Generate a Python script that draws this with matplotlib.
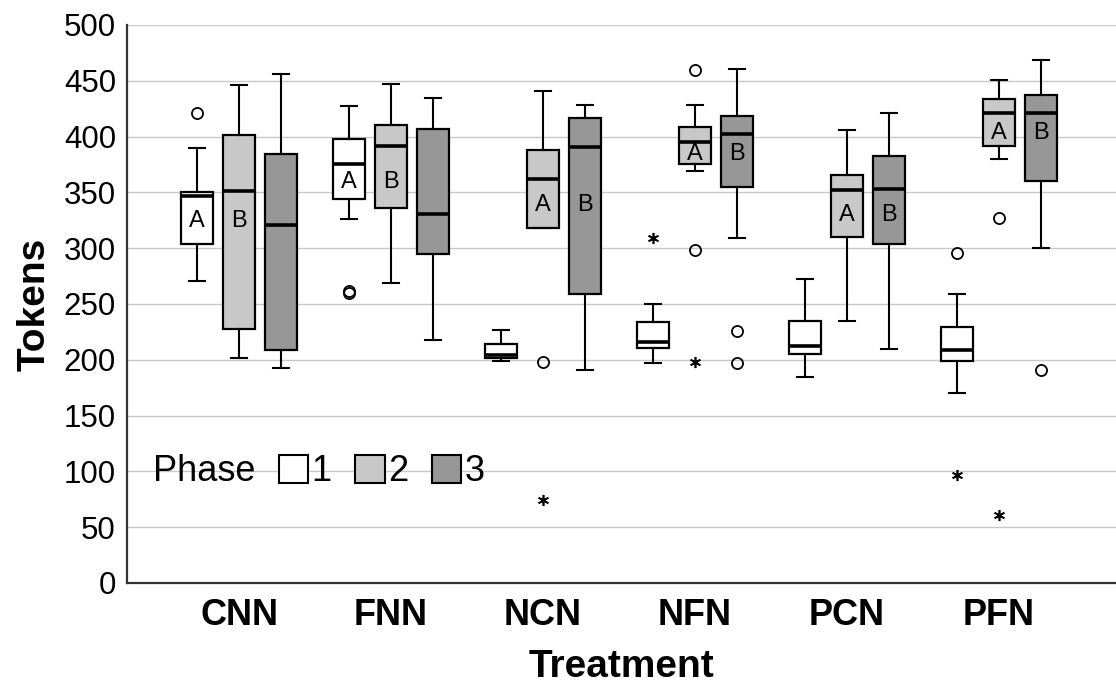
import numpy as np
import matplotlib
matplotlib.use("Agg")
import matplotlib.pyplot as plt
from matplotlib.patches import Patch

# フォント設定（Arial 互換）
plt.rcParams["font.family"] = ["Liberation Sans", "DejaVu Sans"]

# --- データ ---
treatments = ["CNN", "FNN", "NCN", "NFN", "PCN", "PFN"]
phases = ["1", "2", "3"]
phase_colors = ["#ffffff", "#c8c8c8", "#979797"]

# 各フェーズ x 各処理区 の箱ひげ統計量
whisker_low = [
    [271, 326, 199, 197, 185, 170],
    [202, 269, 318, 369, 235, 380],
    [193, 218, 191, 309, 210, 300],
]
quart1 = [
    [304, 344, 202, 211, 205, 199],
    [228, 336, 318, 375, 310, 392],
    [209, 295, 259, 355, 304, 360],
]
median = [
    [347, 375, 204, 216, 212, 209],
    [351, 392, 362, 395, 352, 421],
    [321, 331, 391, 402, 353, 421],
]
quart3 = [
    [350, 398, 214, 234, 235, 229],
    [401, 410, 388, 409, 366, 434],
    [384, 407, 417, 418, 383, 437],
]
whisker_high = [
    [390, 427, 227, 250, 272, 259],
    [446, 447, 441, 428, 406, 451],
    [456, 435, 428, 461, 421, 469],
]
# 外れ値（○）と極値（*）
circles = [
    [[421], [260, 262], [], [], [], [296]],
    [[], [], [198], [460, 298], [], [327]],
    [[], [], [], [226, 197], [], [191]],
]
stars = [
    [[], [], [], [309], [], [97]],
    [[], [], [74], [198], [], [61]],
    [[], [], [], [], [], []],
]
# 多重比較の文字
letters = [
    ["A", "A", "", "", "", ""],
    ["B", "B", "A", "A", "A", "A"],
    ["", "", "B", "B", "B", "B"],
]
letter_y = [324, 359, 339, 384, 330, 403]

# --- 描画 ---
fig, ax = plt.subplots(figsize=(11.16, 6.98), dpi=100)
fig.subplots_adjust(left=0.1138, right=1.0, bottom=0.1648, top=0.9642)

x = np.arange(len(treatments))
offset = 0.276
box_w = 0.21

for p in range(len(phases)):
    stats = []
    for i in range(len(treatments)):
        stats.append(
            dict(
                med=median[p][i],
                q1=quart1[p][i],
                q3=quart3[p][i],
                whislo=whisker_low[p][i],
                whishi=whisker_high[p][i],
                fliers=circles[p][i],
            )
        )
    pos = x + (p - 1) * offset
    ax.bxp(
        stats,
        positions=pos,
        widths=box_w,
        capwidths=0.103,
        patch_artist=True,
        manage_ticks=False,
        boxprops=dict(facecolor=phase_colors[p], edgecolor="black", linewidth=1.6),
        medianprops=dict(color="black", linewidth=2.6, solid_capstyle="butt"),
        whiskerprops=dict(color="black", linewidth=1.5),
        capprops=dict(color="black", linewidth=1.5),
        flierprops=dict(
            marker="o",
            markerfacecolor="none",
            markeredgecolor="black",
            markersize=8,
            markeredgewidth=1.3,
            linestyle="none",
        ),
    )
    # 極値（*）と文字
    for i in range(len(treatments)):
        if stars[p][i]:
            ax.plot(
                [pos[i]] * len(stars[p][i]),
                stars[p][i],
                linestyle="none",
                marker=(6, 2, 0),
                markersize=8,
                markeredgewidth=1.2,
                color="black",
            )
        if letters[p][i]:
            ax.text(pos[i], letter_y[i], letters[p][i], ha="center", va="center",
                    fontsize=17, zorder=5)

# 軸
ax.set_xlim(-0.737, 5.77)
ax.set_ylim(0, 500)
ax.set_yticks(np.arange(0, 501, 50))
ax.set_xticks(x, treatments, fontsize=26, fontweight="bold")
ax.tick_params(axis="x", length=0, pad=11)
ax.tick_params(axis="y", length=0, pad=8, labelsize=22.5)
ax.yaxis.grid(True, color="#c8c8c8", linewidth=1.0)
ax.set_axisbelow(True)
for s in ["top", "right"]:
    ax.spines[s].set_visible(False)
for s in ["left", "bottom"]:
    ax.spines[s].set_color("#333333")
    ax.spines[s].set_linewidth(1.6)

ax.set_xlabel("Treatment", fontsize=28, fontweight="bold", labelpad=11)
ax.set_ylabel("Tokens", fontsize=28, fontweight="bold", labelpad=8)

# 凡例（先頭は見えないハンドルで "Phase" を表示）
handles = [Patch(facecolor="none", edgecolor="none")]
handles += [Patch(facecolor=c, edgecolor="black", linewidth=1.5) for c in phase_colors]
ax.legend(
    handles,
    ["Phase"] + phases,
    ncol=4,
    frameon=False,
    fontsize=26,
    loc="center left",
    bbox_to_anchor=(-0.007, 0.199),
    borderpad=0,
    borderaxespad=0,
    handlelength=0.82,
    handleheight=0.83,
    handletextpad=0.09,
    columnspacing=0.65,
)

fig.savefig("out.png", dpi=100)
